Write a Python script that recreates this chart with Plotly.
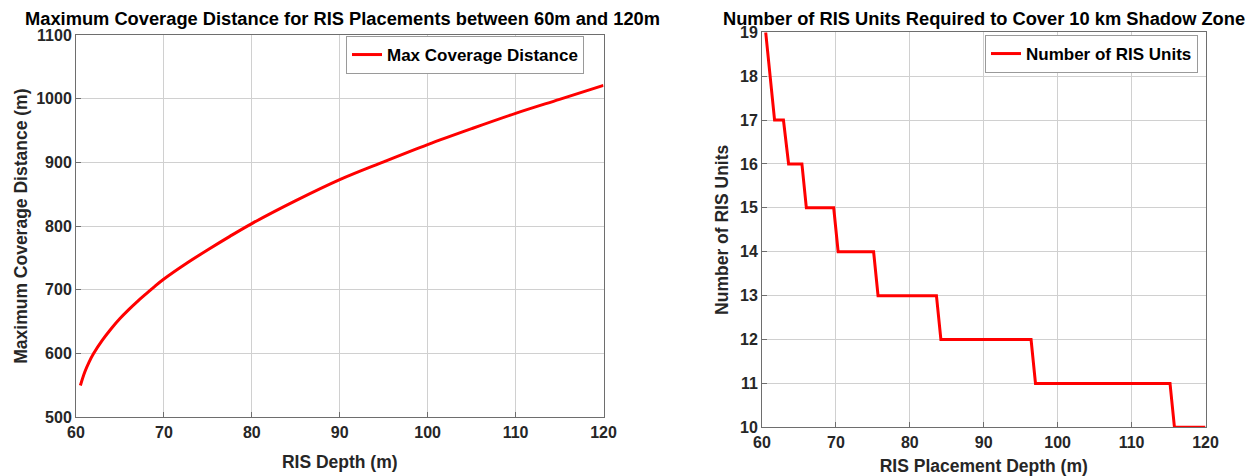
import plotly.graph_objects as go

# Maximum coverage distance versus RIS depth
depth_m = [60.5, 61.0, 61.5, 62.0, 63.0, 64.0, 65.0, 66.0, 67.0, 68.0, 69.0,
           70.0, 72.5, 75.0, 77.5, 80.0, 85.0, 90.0, 95.0, 100.0, 105.0,
           110.0, 115.0, 120.0]
coverage_m = [550, 571, 587, 600, 621, 639, 655, 669, 682, 694, 706,
              717, 741, 763, 784, 804, 840, 873, 901, 928, 953,
              977, 999, 1021]

# Number of RIS units needed for a 10 km shadow zone (step curve vertices)
placement_m = [60.5, 61.1, 61.7, 62.9, 63.6, 65.4, 66.0, 69.7, 70.3, 75.1,
               75.7, 83.6, 84.2, 96.4, 97.0, 115.2, 115.8, 120.0]
ris_units = [19, 18, 17, 17, 16, 16, 15, 15, 14, 14,
             13, 13, 12, 12, 11, 11, 10, 10]

x_ticks = [60, 70, 80, 90, 100, 110, 120]
cov_ticks = [500, 600, 700, 800, 900, 1000, 1100]
unit_ticks = list(range(10, 20))

FONT = "Liberation Sans, Arial, sans-serif"
TXT = "#262626"
GRID = "#d0d0d0"
BOX = "#6e6e6e"

fig = go.Figure()
fig.add_trace(go.Scatter(
    x=depth_m, y=coverage_m, mode="lines", line_shape="spline",
    line=dict(color="#ff0000", width=3), name="<b>Max Coverage Distance</b>",
    xaxis="x", yaxis="y", legend="legend"))
fig.add_trace(go.Scatter(
    x=placement_m, y=ris_units, mode="lines",
    line=dict(color="#ff0000", width=3), name="<b>Number of RIS Units</b>",
    xaxis="x2", yaxis="y2", legend="legend2"))

W, H = 1251, 476


def px_x(p):
    return p / W


def px_y(p):
    return 1 - p / H


axis_common = dict(
    showgrid=True, gridcolor=GRID, gridwidth=1,
    showline=True, linecolor=BOX, linewidth=1, mirror=True,
    ticks="inside", ticklen=5, tickcolor=BOX,
    tickfont=dict(family=FONT, size=16, color=TXT),
    zeroline=False, fixedrange=True, automargin=False,
)
title_font = dict(family=FONT, size=17.5, color=TXT)

fig.update_layout(
    width=W, height=H,
    margin=dict(l=0, r=0, t=0, b=0, autoexpand=False),
    paper_bgcolor="white", plot_bgcolor="white",
    font=dict(family=FONT, color=TXT),
    xaxis=dict(axis_common, domain=[px_x(76), px_x(603.5)], range=[60, 120],
               tickvals=x_ticks, ticktext=[f"<b>{v}</b>" for v in x_ticks],
               title=dict(text="<b>RIS Depth (m)</b>", standoff=16, font=title_font),
               anchor="y"),
    yaxis=dict(axis_common, domain=[px_y(417.3), px_y(35)], range=[500, 1100],
               tickvals=cov_ticks, ticktext=[f"<b>{v}</b>" for v in cov_ticks],
               title=dict(text="<b>Maximum Coverage Distance (m)</b>", standoff=4,
                          font=title_font),
               anchor="x"),
    xaxis2=dict(axis_common, domain=[px_x(762), px_x(1205.5)], range=[60, 120],
                tickvals=x_ticks, ticktext=[f"<b>{v}</b>" for v in x_ticks],
                title=dict(text="<b>RIS Placement Depth (m)</b>", standoff=10,
                           font=title_font),
                anchor="y2"),
    yaxis2=dict(axis_common, domain=[px_y(427.3), px_y(32.3)], range=[10, 19],
                tickvals=unit_ticks, ticktext=[f"<b>{v}</b>" for v in unit_ticks],
                title=dict(text="<b>Number of RIS Units</b>", standoff=6,
                           font=title_font),
                anchor="x2"),
    legend=dict(x=px_x(584), y=px_y(36), xanchor="right", yanchor="top",
                bgcolor="white", bordercolor="#9a9a9a", borderwidth=1,
                font=dict(family=FONT, size=17, color="black"),
                itemwidth=30, tracegroupgap=0),
    legend2=dict(x=px_x(1198), y=px_y(35), xanchor="right", yanchor="top",
                 bgcolor="white", bordercolor="#9a9a9a", borderwidth=1,
                 font=dict(family=FONT, size=17, color="black"),
                 itemwidth=30, tracegroupgap=0),
    showlegend=True,
    annotations=[
        dict(text="<b>Maximum Coverage Distance for RIS Placements between 60m and 120m</b>",
             x=px_x(342), y=px_y(19), xref="paper", yref="paper",
             xanchor="center", yanchor="middle", showarrow=False,
             font=dict(family=FONT, size=18.3, color="black")),
        dict(text="<b>Number of RIS Units Required to Cover 10 km Shadow Zone</b>",
             x=px_x(984), y=px_y(19), xref="paper", yref="paper",
             xanchor="center", yanchor="middle", showarrow=False,
             font=dict(family=FONT, size=18.3, color="black")),
    ],
)

fig.write_html("out.html")
